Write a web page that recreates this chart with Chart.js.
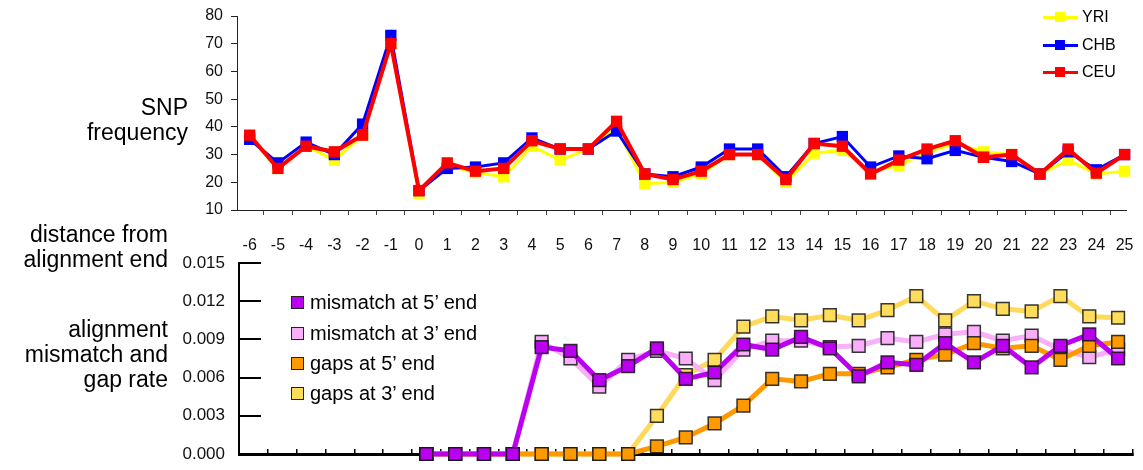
<!DOCTYPE html>
<html>
<head>
<meta charset="utf-8">
<script src="https://cdn.jsdelivr.net/npm/chart.js@4.4.1/dist/chart.umd.min.js"></script>
<style>
  html, body { margin: 0; padding: 0; background: #fff; }
  #wrap { position: relative; width: 1143px; height: 470px; overflow: hidden; font-family: "Liberation Sans", Arial, sans-serif; color: #000; }
  canvas { position: absolute; left: 0; }
  .side { position: absolute; text-align: right; font-size: 23px; line-height: 25px; white-space: nowrap; }
  .lg { position: absolute; white-space: nowrap; }
</style>
</head>
<body>
<div id="wrap">
  <canvas id="snpChart" width="1143" height="262" style="top:0"></canvas>
  <canvas id="rateChart" width="1143" height="222" style="top:248px"></canvas>

  <div class="side" style="right:955px; top:95px">SNP<br>frequency</div>
  <div class="side" style="right:975px; top:222px">distance from<br>alignment end</div>
  <div class="side" style="right:975px; top:317px">alignment<br>mismatch and<br>gap rate</div>

  <div id="snpLegend"></div>
  <div id="rateLegend"></div>
</div>

<script>
// top panel: SNP frequency by distance from alignment end
const positions = [-6, -5, -4, -3, -2, -1, 0, 1, 2, 3, 4, 5, 6, 7, 8, 9, 10, 11, 12, 13, 14, 15, 16, 17, 18, 19, 20, 21, 22, 23, 24, 25]
const yri = [36, 25, 33, 28, 37, 70, 16, 26, 23.5, 22, 33, 28, 32, 39.5, 19.5, 20, 23, 30, 30, 20, 30.5, 31.5, 24, 26, 31, 34, 31, 30, 23, 28, 23, 24]
const chb = [35.5, 27, 34.5, 30, 41, 73, 17, 25, 25.5, 27, 36, 32, 32, 38.5, 23, 22, 25.5, 32, 32, 22, 34, 36.5, 25.5, 29.5, 28.5, 31.5, 29, 27.5, 23, 31, 24.5, 30]
const ceu = [37, 25, 33, 31, 37, 70, 17, 27, 24, 25, 35, 32, 32, 42, 23, 21, 24, 30, 30, 21, 34, 33, 23, 28, 32, 35, 29, 30, 23, 32, 23.3, 30]
const snpTicks = [10, 20, 30, 40, 50, 60, 70, 80]

// bottom panel: alignment mismatch and gap rate
const ratePositions = [-6, -5, -4, -3, -2, -1, 0, 1, 2, 3, 4, 5, 6, 7, 8, 9, 10, 11, 12, 13, 14, 15, 16, 17, 18, 19, 20, 21, 22, 23, 24]
const mismatch5 = [null, null, null, null, null, null, 0, 0, 0, 0, 0.0084, 0.0081, 0.0058, 0.0069, 0.0083, 0.0059, 0.0064, 0.0086, 0.0082, 0.0092, 0.0083, 0.0061, 0.0072, 0.0070, 0.0087, 0.0072, 0.0085, 0.0068, 0.0085, 0.0094, 0.0075]
const mismatch3 = [null, null, null, null, null, null, 0, 0, 0, 0, 0.0088, 0.0075, 0.0053, 0.0074, 0.0081, 0.0075, 0.0058, 0.0082, 0.0089, 0.0089, 0.0084, 0.0085, 0.0091, 0.0088, 0.0094, 0.0096, 0.0089, 0.0093, 0.0082, 0.0076, 0.0082]
const gaps5 = [null, null, null, null, null, null, 0, 0, 0, 0, 0, 0, 0, 0, 0.0006, 0.0013, 0.0024, 0.0038, 0.0059, 0.0057, 0.0063, 0.0063, 0.0068, 0.0074, 0.0078, 0.0087, 0.0083, 0.0085, 0.0074, 0.0085, 0.0088]
const gaps3 = [null, null, null, null, null, null, 0, 0, 0, 0, 0, 0, 0, 0, 0.0030, 0.0062, 0.0074, 0.0100, 0.0108, 0.0105, 0.0109, 0.0105, 0.0113, 0.0124, 0.0105, 0.0120, 0.0114, 0.0112, 0.0124, 0.0108, 0.0107]
const rateTicks = [0, 0.003, 0.006, 0.009, 0.012, 0.015]

const snpSeries = [
  { label: "YRI", values: yri, color: "#FFFF00", width: 3, order: 3 },
  { label: "CHB", values: chb, color: "#0000FF", width: 3, order: 2 },
  { label: "CEU", values: ceu, color: "#FF0000", width: 4, order: 1 },
]

const rateSeries = [
  { label: "mismatch at 5\u2019 end", values: mismatch5, color: "#BB00F2", fill: "#BB00F2", order: 1 },
  { label: "mismatch at 3\u2019 end", values: mismatch3, color: "#F8B0F8", fill: "#F9AEF9", order: 3 },
  { label: "gaps at 5\u2019 end", values: gaps5, color: "#FF9900", fill: "#FF9900", order: 2 },
  { label: "gaps at 3\u2019 end", values: gaps3, color: "#FFD95A", fill: "#FFDD5C", order: 4 },
]

Chart.defaults.font.family = "'Liberation Sans', Arial, sans-serif"
Chart.defaults.color = "#000"

// keep the plot area where the layout padding puts it (tick padding would otherwise push it in)
const noEdgePadding = (scale) => {
  scale.paddingTop = 0
  scale.paddingBottom = 0
  scale.paddingLeft = 0
  scale.paddingRight = 0
}

// SNP frequency chart, linear x so the labels sit on the points and the ticks fall between them
new Chart(document.getElementById("snpChart"), {
  type: "line",
  data: {
    datasets: snpSeries.map((s) => ({
      label: s.label,
      data: positions.map((p, i) => ({ x: p, y: s.values[i] })),
      borderColor: s.color,
      backgroundColor: s.color,
      borderWidth: s.width,
      pointStyle: "rect",
      pointRadius: 8,
      pointBorderWidth: 0,
      pointBackgroundColor: s.color,
      tension: 0,
      order: s.order,
      clip: false,
    })),
  },
  options: {
    responsive: false,
    animation: false,
    events: [],
    layout: { padding: { top: 16, right: 17, left: 0, bottom: 0 } },
    plugins: { legend: { display: false }, tooltip: { enabled: false } },
    scales: {
      x: {
        type: "linear",
        min: -6.45,
        max: 25.05,
        ticks: {
          stepSize: 1,
          includeBounds: false,
          autoSkip: false,
          maxRotation: 0,
          padding: 21,
          font: { size: 16 },
          color: "#111",
        },
        grid: { drawOnChartArea: false, offset: true, tickLength: 5, color: "#444", lineWidth: 1 },
        border: { color: "#222", width: 1 },
        afterFit: (scale) => { scale.height = 52; noEdgePadding(scale) },
      },
      y: {
        min: snpTicks[0],
        max: snpTicks[snpTicks.length - 1],
        afterBuildTicks: (scale) => { scale.ticks = snpTicks.map((v) => ({ value: v })) },
        ticks: { padding: 8, font: { size: 16 }, color: "#111" },
        grid: { drawOnChartArea: false, tickLength: 6, color: "#222", lineWidth: 1 },
        border: { color: "#222", width: 1 },
        afterFit: (scale) => { scale.width = 237; noEdgePadding(scale) },
      },
    },
  },
})

// mismatch / gap rate chart, ticks drawn inward like the original
new Chart(document.getElementById("rateChart"), {
  type: "line",
  data: {
    labels: ratePositions,
    datasets: rateSeries.map((s) => ({
      label: s.label,
      data: s.values,
      borderColor: s.color,
      backgroundColor: s.fill,
      borderWidth: 5,
      pointStyle: "rect",
      pointRadius: 9,
      pointBorderWidth: 1.5,
      pointBorderColor: "rgba(20,20,20,0.85)",
      pointBackgroundColor: s.fill,
      tension: 0,
      order: s.order,
      clip: false,
    })),
  },
  options: {
    responsive: false,
    animation: false,
    events: [],
    layout: { padding: { top: 15, right: 0, left: 0, bottom: 0 } },
    plugins: { legend: { display: false }, tooltip: { enabled: false } },
    scales: {
      x: {
        type: "category",
        offset: true,
        ticks: { display: false },
        grid: { drawOnChartArea: false, offset: true, tickLength: -5, color: "#000", lineWidth: 1.5 },
        border: { color: "#000", width: 3 },
        afterFit: (scale) => { scale.height = 16; noEdgePadding(scale) },
      },
      y: {
        min: rateTicks[0],
        max: rateTicks[rateTicks.length - 1],
        afterBuildTicks: (scale) => { scale.ticks = rateTicks.map((v) => ({ value: v })) },
        ticks: {
          padding: 36,
          font: { size: 17 },
          color: "#111",
          callback: (v) => Number(v).toFixed(3),
        },
        grid: { drawOnChartArea: false, tickLength: -22, color: "#000", lineWidth: 2 },
        border: { color: "#000", width: 2 },
        afterFit: (scale) => { scale.width = 239; noEdgePadding(scale) },
      },
    },
  },
})

// legends, placed inside the plot areas as in the original figure
const snpLegend = document.getElementById("snpLegend")
const snpRows = [17, 45, 72]
snpSeries.forEach((s, i) => {
  const y = snpRows[i]
  snpLegend.insertAdjacentHTML("beforeend",
    `<div class="lg" style="left:1043px; top:${y - 1.5}px; width:35px; height:3px; background:${s.color}"></div>` +
    `<div class="lg" style="left:1055px; top:${y - 5}px; width:10px; height:10px; background:${s.color}"></div>` +
    `<div class="lg" style="left:1082px; top:${y - 10}px; font-size:16px; line-height:20px">${s.label}</div>`)
})

const rateLegend = document.getElementById("rateLegend")
const rateRows = [302, 333, 363, 393]
rateSeries.forEach((s, i) => {
  const y = rateRows[i]
  rateLegend.insertAdjacentHTML("beforeend",
    `<div class="lg" style="left:291px; top:${y - 6.5}px; width:11px; height:11px; background:${s.fill}; border:1px solid #222"></div>` +
    `<div class="lg" style="left:310px; top:${y - 12}px; font-size:20px; line-height:24px">${s.label}</div>`)
})
</script>
</body>
</html>
